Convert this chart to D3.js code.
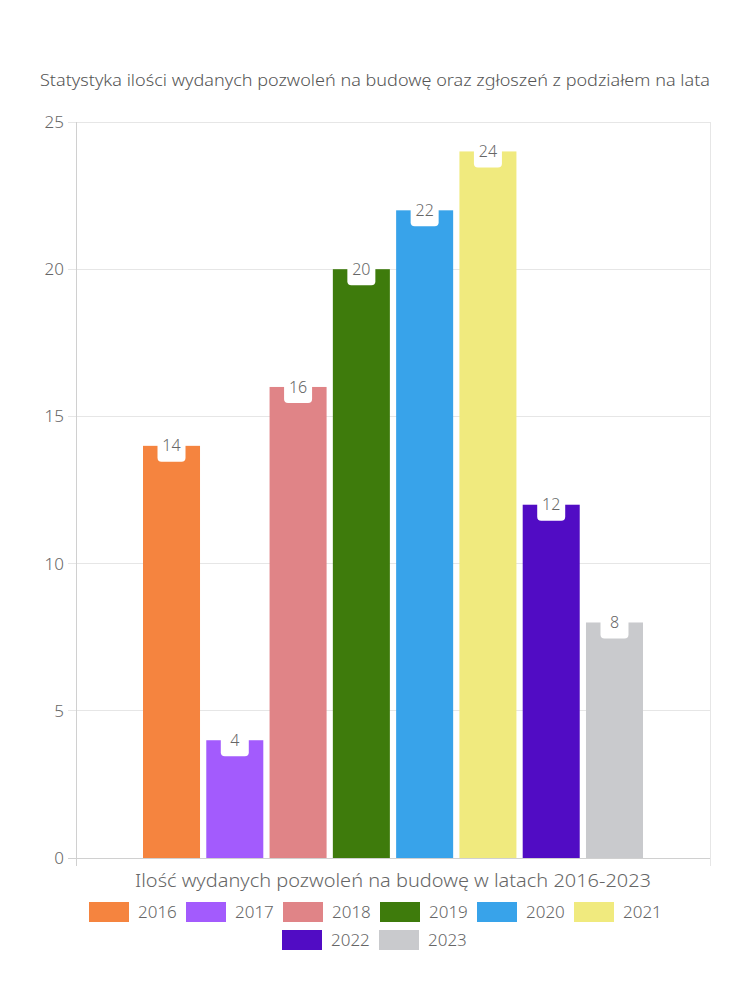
<!DOCTYPE html>
<html><head><meta charset="utf-8">
<script src="https://cdn.jsdelivr.net/npm/d3@7"></script>
<style>body{margin:0;background:#fff}svg{display:block}text{font-family:"Noto Sans",sans-serif;font-weight:300}</style>
</head><body>
<svg id="c" width="750" height="1000"></svg>
<script>
const years = ["2016","2017","2018","2019","2020","2021","2022","2023"];
const values = [14, 4, 16, 20, 22, 24, 12, 8];
const colors = ["#f5843f","#a35bfd","#e08487","#3e7b0c","#38a3ea","#f0ea7e","#510cc4","#c9cacd"];
const yTicks = [0, 5, 10, 15, 20, 25];
const title = "Statystyka ilości wydanych pozwoleń na budowę oraz zgłoszeń z podziałem na lata";
const xTitle = "Ilość wydanych pozwoleń na budowę w latach 2016-2023";

const svg = d3.select("#c");
const L = 76, R = 710, T = 122, B = 858;
const y = d3.scaleLinear().domain([0, 25]).range([B, T]);
const x = d3.scaleBand().domain(years).range([143, 643]).paddingInner(0.099).paddingOuter(0);

// grid
svg.append("g").selectAll("line").data(yTicks).join("line")
  .attr("x1", L - 8).attr("x2", R).attr("y1", d => y(d)).attr("y2", d => y(d))
  .attr("stroke", "#e6e6e6").attr("stroke-width", 1).attr("shape-rendering","crispEdges");
// left axis line & right border
svg.append("line").attr("x1", L).attr("x2", L).attr("y1", T).attr("y2", B + 8)
  .attr("stroke", "#d0d0d0").attr("shape-rendering","crispEdges");
svg.append("line").attr("x1", R).attr("x2", R).attr("y1", T).attr("y2", B + 8)
  .attr("stroke", "#e6e6e6").attr("shape-rendering","crispEdges");
svg.append("line").attr("x1", L - 8).attr("x2", R).attr("y1", B).attr("y2", B)
  .attr("stroke", "#d0d0d0").attr("shape-rendering","crispEdges");

// y labels
svg.append("g").selectAll("text").data(yTicks).join("text")
  .attr("x", L - 12).attr("y", d => y(d)).attr("dy", "0.35em")
  .attr("text-anchor", "end").attr("fill", "#666").attr("font-size", 17)
  .text(d => d);

// bars
svg.append("g").selectAll("rect").data(years).join("rect")
  .attr("x", d => x(d)).attr("width", x.bandwidth())
  .attr("y", (d, i) => y(values[i])).attr("height", (d, i) => B - y(values[i]))
  .attr("fill", (d, i) => colors[i]);

// labels
const lg = svg.append("g").selectAll("g").data(years).join("g")
  .attr("transform", (d, i) => `translate(${x(d) + x.bandwidth()/2},${y(values[i])})`);
lg.append("rect").attr("x", -14).attr("y", -12).attr("width", 28).attr("height", 28)
  .attr("rx", 4).attr("fill", "#fff");
lg.append("text").attr("text-anchor", "middle").attr("y", 0).attr("dy", "0.35em")
  .attr("fill", "#666").attr("font-size", 16).text((d, i) => values[i]);

// title
svg.append("text").attr("x", 375).attr("y", 86).attr("text-anchor", "middle")
  .attr("fill", "#555").attr("font-size", 16).attr("textLength", 670).attr("lengthAdjust","spacingAndGlyphs").text(title);
svg.append("text").attr("x", 393).attr("y", 887).attr("text-anchor", "middle")
  .attr("fill", "#666").attr("font-size", 18).attr("textLength", 516).attr("lengthAdjust","spacingAndGlyphs").text(xTitle);

// legend
const row1 = years.slice(0, 6), row2 = years.slice(6);
function legendRow(items, startX, cy, offset) {
  const g = svg.append("g").selectAll("g").data(items).join("g")
    .attr("transform", (d, i) => `translate(${startX + i * 97},${cy})`);
  g.append("rect").attr("x", 0).attr("y", -10).attr("width", 40).attr("height", 20)
    .attr("fill", (d, i) => colors[i + offset]);
  g.append("text").attr("x", 49).attr("y", 0).attr("dy", "0.35em")
    .attr("fill", "#666").attr("font-size", 17).text(d => d);
}
legendRow(row1, 89, 912, 0);
legendRow(row2, 282, 940, 6);
</script>
</body></html>
